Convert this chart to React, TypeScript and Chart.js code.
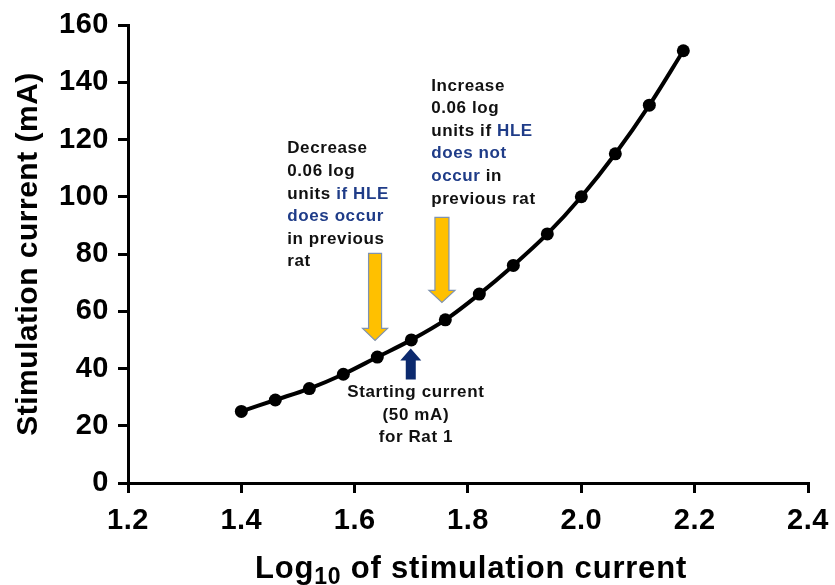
import React, { useEffect, useRef } from 'react';
import { Chart, registerables } from 'chart.js';

Chart.register(...registerables);

// ---- Data ----
const logCurrent = [1.40, 1.46, 1.52, 1.58, 1.64, 1.70, 1.76, 1.82, 1.88, 1.94, 2.00, 2.06, 2.12, 2.18];
const currentMA = [25, 29, 33, 38, 44, 50, 57, 66, 76, 87, 100, 115, 132, 151];

const xMin = 1.2;
const xMax = 2.4;
const xStep = 0.2;
const yMin = 0;
const yMax = 160;
const yStep = 20;

const yTitle = 'Stimulation current (mA)';
const xTitleMain = 'Log';
const xTitleSub = '10';
const xTitleRest = ' of stimulation current';

type Seg = [string, boolean];
const decreaseLines: Seg[][] = [
  [['Decrease', false]],
  [['0.06 log', false]],
  [['units ', false], ['if HLE', true]],
  [['does occur', true]],
  [['in previous', false]],
  [['rat', false]],
];
const increaseLines: Seg[][] = [
  [['Increase', false]],
  [['0.06 log', false]],
  [['units if ', false], ['HLE', true]],
  [['does not', true]],
  [['occur', true], [' in', false]],
  [['previous rat', false]],
];
const startLines: Seg[][] = [
  [['Starting current', false]],
  [['(50 mA)', false]],
  [['for Rat 1', false]],
];

// annotation anchors (data coordinates)
const decreaseAnchor = { x: 1.481, y: 116.8 };
const increaseAnchor = { x: 1.735, y: 138.7 };
const startAnchor = { x: 1.708, y: 31.7 };
const arrowDown1 = { x: 1.636, y: 49.8 };
const arrowDown2 = { x: 1.754, y: 63.1 };
const arrowUp = { x: 1.699, y: 47.0 };

// ---- Styles ----
const FONT = "'Liberation Sans', Arial, Helvetica, sans-serif";
const BLACK = '#000000';
const NAVY_TEXT = '#1f3c88';
const NAVY_ARROW = '#0c2a6e';
const GOLD = '#ffc000';
const GOLD_EDGE = '#7f93b0';

function drawBlock(ctx: CanvasRenderingContext2D, x0: number, y0: number, lines: Seg[][], center: boolean) {
  ctx.save();
  ctx.font = `bold 17px ${FONT}`;
  (ctx as any).letterSpacing = '0.6px';
  ctx.textBaseline = 'middle';
  ctx.textAlign = 'left';
  const step = 22.6;
  lines.forEach((segs, i) => {
    const y = y0 + i * step;
    const total = segs.reduce((s, [t]) => s + ctx.measureText(t).width, 0);
    let x = center ? x0 - total / 2 : x0;
    segs.forEach(([t, blue]) => {
      ctx.fillStyle = blue ? NAVY_TEXT : '#111111';
      ctx.fillText(t, x, y);
      x += ctx.measureText(t).width;
    });
  });
  ctx.restore();
}

function drawArrow(
  ctx: CanvasRenderingContext2D,
  cx: number,
  tipY: number,
  dir: 1 | -1, // 1 = pointing down, -1 = pointing up
  length: number,
  headLen: number,
  shaftW: number,
  headW: number,
  fill: string,
  stroke: string | null
) {
  const baseY = tipY - dir * headLen;
  const tailY = tipY - dir * length;
  ctx.save();
  ctx.beginPath();
  ctx.moveTo(cx - shaftW / 2, tailY);
  ctx.lineTo(cx + shaftW / 2, tailY);
  ctx.lineTo(cx + shaftW / 2, baseY);
  ctx.lineTo(cx + headW / 2, baseY);
  ctx.lineTo(cx, tipY);
  ctx.lineTo(cx - headW / 2, baseY);
  ctx.lineTo(cx - shaftW / 2, baseY);
  ctx.closePath();
  ctx.fillStyle = fill;
  ctx.fill();
  if (stroke) {
    ctx.strokeStyle = stroke;
    ctx.lineWidth = 1.2;
    ctx.stroke();
  }
  ctx.restore();
}

const spacingPlugin = {
  id: 'spacing',
  beforeDraw(chart: any) {
    (chart.ctx as any).letterSpacing = '0.5px';
  },
  afterDraw(chart: any) {
    (chart.ctx as any).letterSpacing = '0px';
  },
};

const annotationPlugin = {
  id: 'annotations',
  afterDatasetsDraw(chart: any) {
    const { ctx, scales } = chart;
    const xs = scales.x;
    const ys = scales.y;
    const px = (v: number) => xs.getPixelForValue(v);
    const py = (v: number) => ys.getPixelForValue(v);

    drawBlock(ctx, px(decreaseAnchor.x), py(decreaseAnchor.y), decreaseLines, false);
    drawBlock(ctx, px(increaseAnchor.x), py(increaseAnchor.y), increaseLines, false);
    drawBlock(ctx, px(startAnchor.x), py(startAnchor.y), startLines, true);

    drawArrow(ctx, px(arrowDown1.x), py(arrowDown1.y), 1, 87, 12, 13, 25, GOLD, GOLD_EDGE);
    drawArrow(ctx, px(arrowDown2.x), py(arrowDown2.y), 1, 85, 12, 14, 26, GOLD, GOLD_EDGE);
    drawArrow(ctx, px(arrowUp.x), py(arrowUp.y), -1, 31, 12, 10, 21, NAVY_ARROW, null);
  },
  afterDraw(chart: any) {
    const { ctx, chartArea } = chart;
    ctx.save();
    (ctx as any).letterSpacing = '0.8px';
    ctx.fillStyle = BLACK;
    ctx.textAlign = 'left';
    ctx.textBaseline = 'alphabetic';
    const mainFont = `bold 31px ${FONT}`;
    const subFont = `bold 23px ${FONT}`;
    ctx.font = mainFont;
    const w1 = ctx.measureText(xTitleMain).width;
    const w3 = ctx.measureText(xTitleRest).width;
    ctx.font = subFont;
    const w2 = ctx.measureText(xTitleSub).width;
    const total = w1 + w2 + w3;
    const cx = (chartArea.left + chartArea.right) / 2 + 3;
    const baseY = 578;
    let x = cx - total / 2;
    ctx.font = mainFont;
    ctx.fillText(xTitleMain, x, baseY);
    x += w1;
    ctx.font = subFont;
    ctx.fillText(xTitleSub, x, baseY + 5.5);
    x += w2;
    ctx.font = mainFont;
    ctx.fillText(xTitleRest, x, baseY);
    ctx.restore();
  },
};

export default function App() {
  const canvasRef = useRef<HTMLCanvasElement | null>(null);

  useEffect(() => {
    const canvas = canvasRef.current;
    if (!canvas) return;
    const chart = new Chart(canvas, {
      type: 'line',
      data: {
        datasets: [
          {
            data: logCurrent.map((x, i) => ({ x, y: currentMA[i] })),
            borderColor: BLACK,
            backgroundColor: BLACK,
            borderWidth: 4,
            pointRadius: 6.5,
            pointBorderWidth: 0,
            pointBackgroundColor: BLACK,
            cubicInterpolationMode: 'monotone',
            fill: false,
          },
        ],
      },
      options: {
        animation: false,
        responsive: false,
        maintainAspectRatio: false,
        layout: { padding: { top: 25, right: 27, left: 0, bottom: 0 } },
        plugins: {
          legend: { display: false },
          tooltip: { enabled: false },
          title: { display: false },
        },
        scales: {
          x: {
            type: 'linear',
            min: xMin,
            max: xMax,
            afterFit: (s: any) => {
              s.height = 102;
              s.paddingLeft = 0;
              s.paddingRight = 0;
            },
            ticks: {
              stepSize: xStep,
              color: BLACK,
              padding: 11,
              font: { family: FONT, size: 29, weight: 'bold' },
              callback: (v: any) => Number(v).toFixed(1),
            },
            grid: {
              display: true,
              drawOnChartArea: false,
              drawTicks: true,
              tickLength: 10,
              lineWidth: 3,
              tickWidth: 3,
              tickColor: BLACK,
              color: BLACK,
            },
            border: { display: true, color: BLACK, width: 3 },
          },
          y: {
            type: 'linear',
            min: yMin,
            max: yMax,
            afterFit: (s: any) => {
              s.width = 128;
              s.paddingTop = 0;
              s.paddingBottom = 0;
            },
            ticks: {
              stepSize: yStep,
              color: BLACK,
              padding: 9,
              font: { family: FONT, size: 29, weight: 'bold' },
            },
            grid: {
              display: true,
              drawOnChartArea: false,
              drawTicks: true,
              tickLength: 10,
              lineWidth: 3,
              tickWidth: 3,
              tickColor: BLACK,
              color: BLACK,
            },
            border: { display: true, color: BLACK, width: 3 },
            title: {
              display: true,
              text: yTitle,
              color: BLACK,
              font: { family: FONT, size: 30, weight: 'bold' },
              padding: { top: 11, bottom: 0 },
            },
          },
        },
      },
      plugins: [spacingPlugin, annotationPlugin],
    } as any);
    return () => chart.destroy();
  }, []);

  return (
    <div style={{ position: 'absolute', left: 0, top: 0, width: 835, height: 585, background: '#fff' }}>
      <canvas ref={canvasRef} width={835} height={585} style={{ display: 'block' }} />
    </div>
  );
}
